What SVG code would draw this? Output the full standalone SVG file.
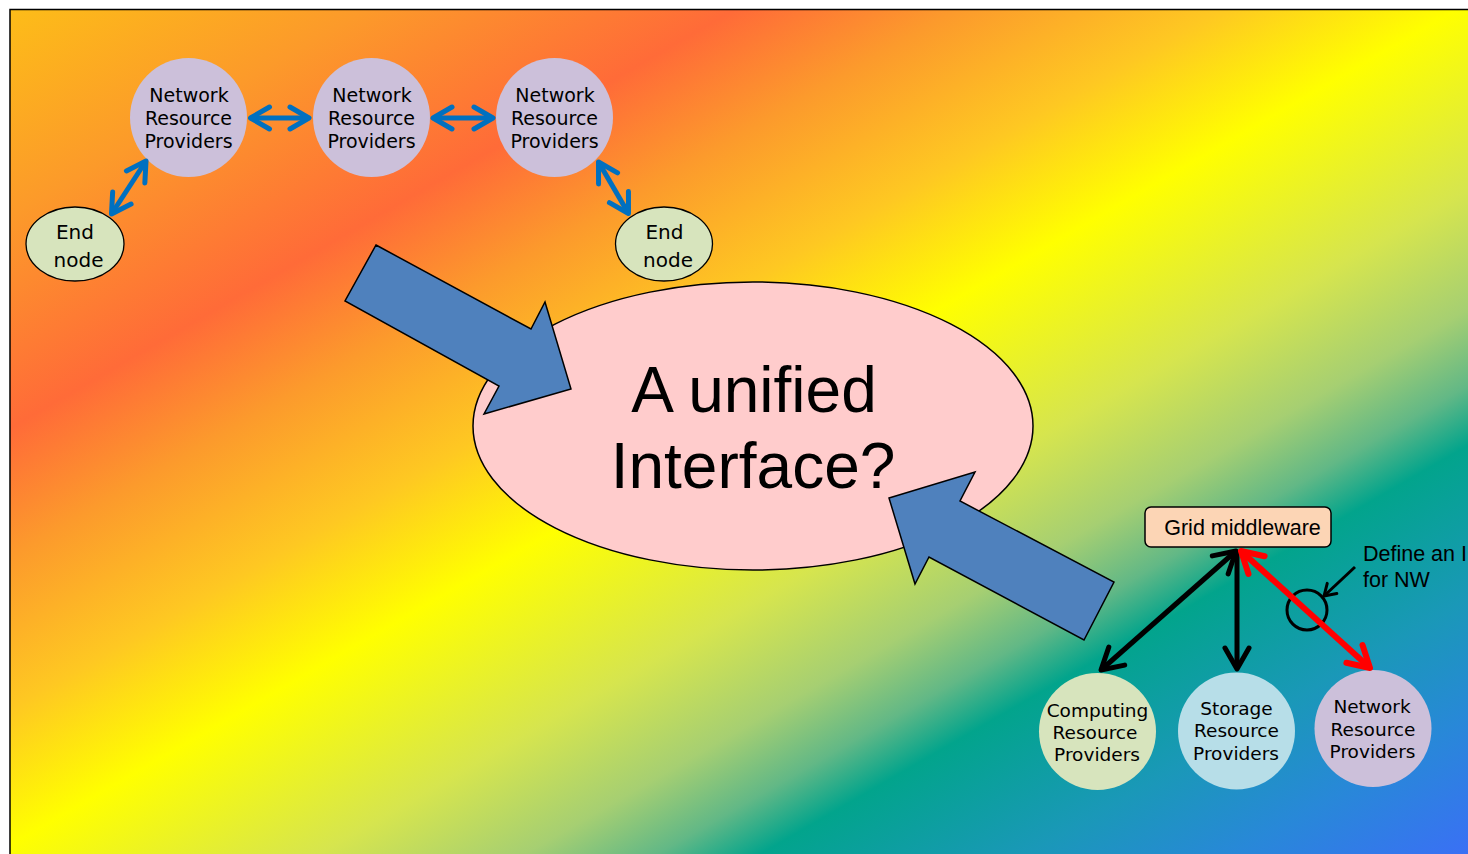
<svg xmlns="http://www.w3.org/2000/svg" width="1468" height="854" viewBox="0 0 1468 854">
<defs>
<linearGradient id="bg" gradientUnits="userSpaceOnUse" x1="0" y1="0" x2="737" y2="1276">
<stop offset="0" stop-color="#fdbf17"/>
<stop offset="0.13" stop-color="#fc9a2a"/>
<stop offset="0.255" stop-color="#ff6b38"/>
<stop offset="0.33" stop-color="#fc9a2c"/>
<stop offset="0.42" stop-color="#fec822"/>
<stop offset="0.50" stop-color="#ffff00"/>
<stop offset="0.61" stop-color="#d6e54e"/>
<stop offset="0.68" stop-color="#a6cf72"/>
<stop offset="0.725" stop-color="#62b886"/>
<stop offset="0.76" stop-color="#02a48c"/>
<stop offset="0.85" stop-color="#1a98b8"/>
<stop offset="0.92" stop-color="#2888d8"/>
<stop offset="1" stop-color="#3a70f5"/>
</linearGradient>
<marker id="hBlue" markerUnits="userSpaceOnUse" viewBox="-30 -20 35 40" markerWidth="35" markerHeight="40" refX="0" refY="0" orient="auto-start-reverse" overflow="visible">
<path d="M-19,-11 L0,0 L-19,11" fill="none" stroke="#0070c0" stroke-width="5" stroke-linecap="round" stroke-linejoin="round"/>
</marker>
<marker id="hBlack" markerUnits="userSpaceOnUse" viewBox="-30 -20 35 40" markerWidth="35" markerHeight="40" refX="0" refY="0" orient="auto-start-reverse" overflow="visible">
<path d="M-21,-12 L0,0 L-21,12" fill="none" stroke="#000" stroke-width="5" stroke-linecap="round" stroke-linejoin="round"/>
</marker>
<marker id="hRed" markerUnits="userSpaceOnUse" viewBox="-30 -20 35 40" markerWidth="35" markerHeight="40" refX="0" refY="0" orient="auto-start-reverse" overflow="visible">
<path d="M-21,-12 L0,0 L-21,12" fill="none" stroke="#ff0000" stroke-width="6" stroke-linecap="round" stroke-linejoin="round"/>
</marker>
<marker id="hSmall" markerUnits="userSpaceOnUse" viewBox="-15 -10 20 20" markerWidth="20" markerHeight="20" refX="0" refY="0" orient="auto" overflow="visible">
<path d="M-11,-7 L0,0 L-11,7" fill="none" stroke="#000" stroke-width="3" stroke-linecap="round" stroke-linejoin="round"/>
</marker>
</defs>
<style>
.nrp{fill:#ccc0da;}
.end{fill:#d7e4bd;stroke:#000;stroke-width:1.3;}
.t1{font-family:"DejaVu Sans",Verdana,sans-serif;font-size:19px;fill:#000;text-anchor:middle;}
.t2{font-family:"DejaVu Sans",Verdana,sans-serif;font-size:18.5px;fill:#000;text-anchor:middle;}
.te{font-family:"DejaVu Sans",Verdana,sans-serif;font-size:20px;fill:#000;text-anchor:middle;}
.blue{stroke:#0070c0;stroke-width:5;fill:none;marker-start:url(#hBlue);marker-end:url(#hBlue);}
.blk{stroke:#000;stroke-width:5;fill:none;}
.red{stroke:#ff0000;stroke-width:6;fill:none;marker-start:url(#hRed);marker-end:url(#hRed);}
.big{fill:#4f81bd;stroke:#000;stroke-width:1.5;stroke-linejoin:miter;}
.sans{font-family:"Liberation Sans",Arial,sans-serif;fill:#000;}
</style>
<rect x="0" y="0" width="1468" height="854" fill="#fff"/>
<rect id="frame" x="10" y="9.5" width="1500" height="900" fill="url(#bg)" stroke="#000" stroke-width="1.5"/>

<g id="nrp1"><ellipse class="nrp" cx="188.5" cy="117.5" rx="58.5" ry="59.5"/>
<text class="t1" x="189" y="102">Network</text><text class="t1" x="188.5" y="125">Resource</text><text class="t1" x="188.5" y="148">Providers</text></g>
<g id="nrp2"><ellipse class="nrp" cx="371.5" cy="117.5" rx="58.5" ry="59.5"/>
<text class="t1" x="372" y="102">Network</text><text class="t1" x="371.5" y="125">Resource</text><text class="t1" x="371.5" y="148">Providers</text></g>
<g id="nrp3"><ellipse class="nrp" cx="554.5" cy="117.5" rx="58.5" ry="59.5"/>
<text class="t1" x="555" y="102">Network</text><text class="t1" x="554.5" y="125">Resource</text><text class="t1" x="554.5" y="148">Providers</text></g>
<g id="end1"><ellipse class="end" cx="75" cy="244" rx="49" ry="37"/>
<text class="te" x="75" y="239">End</text><text class="te" x="78.5" y="267">node</text></g>
<g id="end2"><ellipse class="end" cx="664" cy="244" rx="48.5" ry="37"/>
<text class="te" x="664.5" y="239">End</text><text class="te" x="668" y="267">node</text></g>

<g id="unified"><ellipse cx="753" cy="426" rx="280" ry="144" fill="#ffcccc" stroke="#000" stroke-width="1.5"/>
<text class="sans" x="754" y="412" font-size="64" text-anchor="middle">A unified</text>
<text class="sans" x="753" y="488" font-size="64" text-anchor="middle">Interface?</text></g>

<g id="grid"><rect x="1145" y="507" width="186" height="40" rx="6" fill="#fcd5b5" stroke="#000" stroke-width="1.5"/>
<text class="sans" x="1242.5" y="535" font-size="21.5" text-anchor="middle">Grid middleware</text></g>
<g id="comp"><circle cx="1097.5" cy="731.5" r="58.5" fill="#d7e4bd"/>
<text class="t2" x="1097.5" y="717">Computing</text><text class="t2" x="1095" y="739">Resource</text><text class="t2" x="1097" y="761">Providers</text></g>
<g id="stor"><circle cx="1236.5" cy="731" r="58.5" fill="#b7dee8"/>
<text class="t2" x="1236.5" y="715">Storage</text><text class="t2" x="1236.5" y="737">Resource</text><text class="t2" x="1236" y="760">Providers</text></g>
<g id="nrp4"><circle cx="1373" cy="728.5" r="58.5" fill="#ccc0da"/>
<text class="t2" x="1372" y="713">Network</text><text class="t2" x="1373" y="736">Resource</text><text class="t2" x="1372.5" y="758">Providers</text></g>
<g id="note"><text class="sans" x="1363" y="561" font-size="21.5">Define an I</text>
<text class="sans" x="1363" y="587" font-size="21.5">for NW</text>
<circle cx="1307" cy="610" r="20" fill="none" stroke="#000" stroke-width="3"/></g>

<g id="connectors">
<line class="blue" x1="250.5" y1="118" x2="309" y2="118"/>
<line class="blue" x1="433" y1="118" x2="493" y2="118"/>
<line class="blue" x1="146" y1="161" x2="111.5" y2="214"/>
<line class="blue" x1="598.5" y1="162" x2="628.5" y2="213.5"/>
<line class="blk" x1="1236" y1="551" x2="1101" y2="670" marker-start="url(#hBlack)" marker-end="url(#hBlack)"/>
<line class="blk" x1="1237" y1="551" x2="1237" y2="669" marker-end="url(#hBlack)"/>
<line class="red" x1="1241" y1="551" x2="1370" y2="668"/>
<line x1="1355" y1="567" x2="1324" y2="596" stroke="#000" stroke-width="3" marker-end="url(#hSmall)"/>
</g>

<g id="block-arrows">
<polygon class="big" points="376,245 531,329 545,302 571,389 484,414 499,386 345,301"/>
<polygon class="big" points="889,498 975,472 960,501 1114,582 1084,640 929,557 915,584"/>
</g>
</svg>
